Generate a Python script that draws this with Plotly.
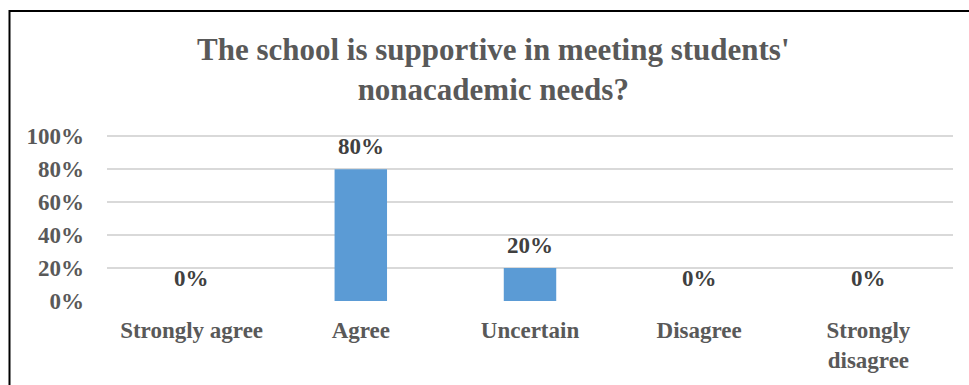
import plotly.graph_objects as go

categories = ["Strongly agree", "Agree", "Uncertain", "Disagree", "Strongly<br>disagree"]
values = [0.0, 0.80, 0.20, 0.0, 0.0]
value_labels = ["0%", "80%", "20%", "0%", "0%"]
tick_vals = [0, 0.2, 0.4, 0.6, 0.8, 1.0]
tick_text = ["0%", "20%", "40%", "60%", "80%", "100%"]
title_text = "The school is supportive in meeting students'<br>nonacademic needs?"

W, H = 969, 385
L, R, T, B = 107, 16, 133, 82
pw, ph = W - L - R, H - T - B

FONT = "Liberation Serif, Times New Roman, serif"

fig = go.Figure()
fig.add_trace(go.Bar(
    x=categories, y=values,
    marker=dict(color="#5B9BD5", line=dict(width=0)),
    hoverinfo="skip",
))

annotations = []
for c, v, t in zip(categories, values, value_labels):
    annotations.append(dict(
        x=c, y=v, xref="x", yref="y", text="<b>%s</b>" % t, showarrow=False,
        yanchor="middle", yshift=23,
        font=dict(family=FONT, size=23, color="#404040"),
    ))

annotations.append(dict(
    x=(493 - L) / pw, y=(H - B - 69) / ph, xref="paper", yref="paper",
    text="<b>%s</b>" % title_text,
    showarrow=False, xanchor="center", yanchor="middle",
    font=dict(family=FONT, size=31, color="#595959"),
))

fig.update_layout(
    width=W, height=H,
    margin=dict(l=L, r=R, t=T, b=B),
    paper_bgcolor="white", plot_bgcolor="white",
    showlegend=False,
    bargap=0.69,
    annotations=annotations,
    shapes=[dict(
        type="rect", xref="paper", yref="paper",
        x0=(9.5 - L) / pw, x1=(W + 10 - L) / pw,
        y0=(H - B - (H + 10)) / ph, y1=(H - B - 9.5) / ph,
        line=dict(color="black", width=2), fillcolor="rgba(0,0,0,0)", layer="above",
    )],
    xaxis=dict(
        showgrid=False, showline=False, zeroline=False, ticks="",
        tickvals=categories, ticktext=["<b>%s</b>" % c for c in categories],
        tickfont=dict(family=FONT, size=23, color="#595959"),
        ticklabelstandoff=13,
    ),
    yaxis=dict(
        range=[0, 1.02], tickvals=tick_vals, ticktext=["<b>%s</b>" % s for s in tick_text],
        showgrid=True, gridcolor="#D9D9D9", gridwidth=2,
        zeroline=False, showline=False, ticks="",
        tickfont=dict(family=FONT, size=23, color="#595959"),
        ticklabelstandoff=22,
    ),
)

fig.write_html(
    "out.html",
    config={"displayModeBar": False},
    post_script="document.body.style.margin='0';document.body.style.overflow='hidden';",
)
